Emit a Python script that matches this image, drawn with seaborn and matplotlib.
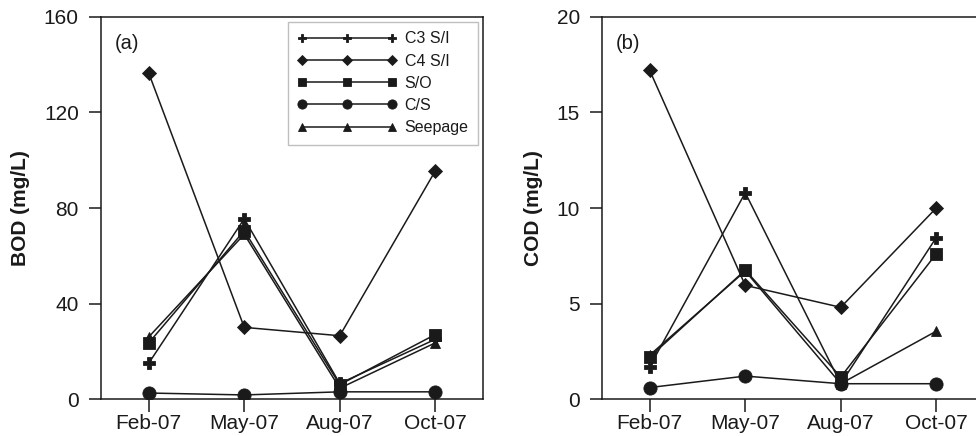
import numpy as np
import pandas as pd
import matplotlib
matplotlib.use("Agg")
import matplotlib.pyplot as plt
import seaborn as sns

# Sampling campaigns
months = ["Feb-07", "May-07", "Aug-07", "Oct-07"]
series = ["C3 S/I", "C4 S/I", "S/O", "C/S", "Seepage"]

# BOD (mg/L) per sampling point
bod_c3 = [15, 75.5, 6.5, 25]
bod_c4 = [136.5, 30, 26.5, 95.5]
bod_so = [23.5, 70.5, 6, 27]
bod_cs = [2.5, 1.7, 3, 3]
bod_seep = [26, 69, 4.5, 23.5]

# COD (mg/L) per sampling point
cod_c3 = [1.7, 10.8, 0.8, 8.45]
cod_c4 = [17.2, 5.95, 4.8, 10.0]
cod_so = [2.2, 6.75, 1.15, 7.6]
cod_cs = [0.6, 1.2, 0.8, 0.8]
cod_seep = [2.3, 6.7, 0.8, 3.55]

bod = [bod_c3, bod_c4, bod_so, bod_cs, bod_seep]
cod = [cod_c3, cod_c4, cod_so, cod_cs, cod_seep]

markers = {"C3 S/I": "P", "C4 S/I": "D", "S/O": "s", "C/S": "o", "Seepage": "^"}
msizes = {"C3 S/I": 9, "C4 S/I": 7, "S/O": 9, "C/S": 9.5, "Seepage": 7.5}

sns.set_theme(style="white")
plt.rcParams["font.family"] = ["Liberation Sans", "DejaVu Sans"]

ink = "#1a1a1a"
fig = plt.figure(figsize=(9.76, 4.36), dpi=100)
ax_a = fig.add_axes([101 / 976, 37 / 436, 382 / 976, 382 / 436])
ax_b = fig.add_axes([602 / 976, 37 / 436, 382 / 976, 382 / 436])


def long_frame(values):
    rows = []
    for name, vals in zip(series, values):
        for m, v in zip(months, vals):
            rows.append({"month": m, "value": v, "series": name})
    return pd.DataFrame(rows)


def draw(ax, values, ylabel, ymax, step, tag):
    df = long_frame(values)
    df["pos"] = df["month"].map({m: i for i, m in enumerate(months)})
    for name in series:
        sub = df[df["series"] == name]
        sns.lineplot(data=sub, x="pos", y="value", ax=ax, color=ink,
                     linewidth=1.1, marker=markers[name],
                     markersize=msizes[name], markeredgecolor=ink,
                     markerfacecolor=ink, markeredgewidth=0.6,
                     label=name, legend=False)
    ax.set_xlim(-0.5, 3.5)
    ax.set_ylim(0, ymax)
    ax.set_xticks(range(len(months)))
    ax.set_xticklabels(months)
    ax.set_yticks(np.arange(0, ymax + 0.1, step))
    ax.set_xlabel("")
    ax.set_ylabel(ylabel, fontsize=15, fontweight="bold", color=ink, labelpad=10)
    ax.tick_params(axis="both", direction="out", length=9, width=1.1,
                   color=ink, labelsize=15, labelcolor=ink,
                   bottom=True, left=True)
    ax.tick_params(axis="x", pad=2)
    ax.tick_params(axis="y", pad=7)
    for sp in ax.spines.values():
        sp.set_color(ink)
        sp.set_linewidth(1.1)
    ax.text(0.037, 0.93, tag, transform=ax.transAxes, fontsize=14.5,
            color=ink, va="center", ha="left")


draw(ax_a, bod, "BOD (mg/L)", 160, 40, "(a)")
draw(ax_b, cod, "COD (mg/L)", 20, 5, "(b)")

leg = ax_a.legend(loc="upper right", numpoints=3, handlelength=6.2,
                  fontsize=11.5, frameon=True, fancybox=False,
                  borderaxespad=0.3, labelspacing=0.45, handletextpad=0.5,
                  borderpad=0.6, markerscale=0.7)
leg.get_frame().set_edgecolor("#b0b0b0")
leg.get_frame().set_linewidth(1.0)
for t in leg.get_texts():
    t.set_color(ink)

fig.savefig("out.png", dpi=100)
